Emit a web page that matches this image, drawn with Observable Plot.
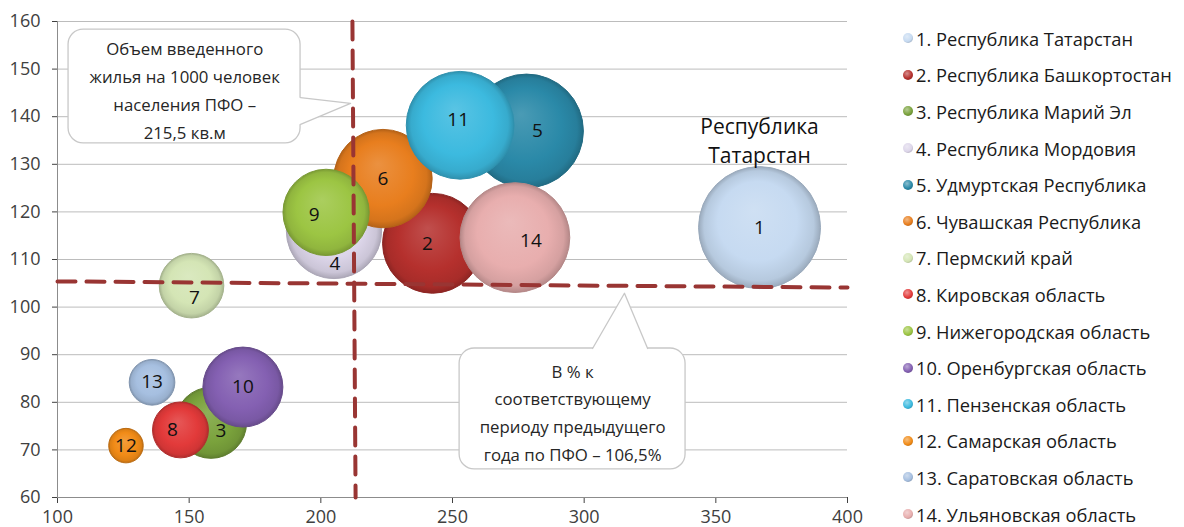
<!DOCTYPE html>
<html><head><meta charset="utf-8">
<script src="https://cdn.jsdelivr.net/npm/d3@7"></script>
<script src="https://cdn.jsdelivr.net/npm/@observablehq/plot@0.6"></script>
<style>
html,body{margin:0;padding:0;background:#fff;}
#wrap{position:relative;width:1184px;height:527px;overflow:hidden;font-family:"Open Sans",sans-serif;}
#chart{position:absolute;left:0;top:0;}
#legend{position:absolute;left:902px;top:20px;}
.item{height:36.6px;display:flex;align-items:center;font-size:18.3px;color:#1a1a1a;white-space:nowrap;}
.ball{width:10px;height:10px;border-radius:50%;margin-left:1px;margin-right:3px;flex:none;}
</style></head><body><div id="wrap"><div id="chart"></div><div id="legend"></div></div>
<script>
// ---- data ----
const regionIds = [1,2,3,4,5,6,7,8,9,10,11,12,13,14];
const regionNames = ["Республика Татарстан","Республика Башкортостан","Республика Марий Эл","Республика Мордовия","Удмуртская Республика","Чувашская Республика","Пермский край","Кировская область","Нижегородская область","Оренбургская область","Пензенская область","Самарская область","Саратовская область","Ульяновская область"];
const housingPer1000 = [366.6,242.4,158.3,205.0,278.1,223.6,150.9,146.7,202.0,170.4,252.9,126.0,135.9,273.7];
const growthPct = [116.7,113.4,75.7,116.0,137.0,127.0,104.5,74.2,119.9,83.2,138.2,70.9,84.2,114.6];
const bubbleSize = [100,67,34,61,87,65,28,21,50,43,78,8,14,81];
const seriesColors = ["#c6daf1","#b5302d","#7aa23c","#ddd6ea","#2a89a8","#e87e1e","#d4e5b5","#e23a3a","#9cc543","#8460b2","#3cbadf","#f18b17","#a6bfe0","#e8aeae"];
const xTicks = [100,150,200,250,300,350,400];
const yTicks = [60,70,80,90,100,110,120,130,140,150,160];
// reference lines as drawn (district averages)
const refVertical = [{x:212.0,y:160},{x:213.2,y:60}];
const refHorizontal = [{x:100,y:105.4},{x:400,y:104.1}];
const calloutTexts = ["Объем введенного\nжилья на 1000 человек\nнаселения ПФО –\n215,5 кв.м","В % к\nсоответствующему\nпериоду предыдущего\nгода по ПФО – 106,5%"];
const highlightLabel = "Республика\nТатарстан";

// ---- build ----
const rows = regionIds.map((id,i)=>({id, name: regionNames[i], x: housingPer1000[i], y: growthPct[i], size: bubbleSize[i], color: seriesColors[i]}));
const darker = (c,t)=>d3.interpolateRgb(c,"#000")(t);
const lighter = (c,t)=>d3.interpolateRgb(c,"#fff")(t);

// callout geometry (data units)
const callouts = [
  {x1:104.2,x2:192.3,y1:158.3,y2:134.4, tx:148.3, ty:146.0, text:calloutTexts[0],
   poly:[[192.3,144.0],[211.3,142.8],[192.3,138.4],[191.5,138.4],[191.5,144.0]],
   edge:[[192.3,144.0],[211.3,142.8],[192.3,138.4]]},
  {x1:252.7,x2:338.5,y1:91.3,y2:65.9, tx:295.6, ty:78.3, text:calloutTexts[1],
   poly:[[303.2,91.3],[315.3,102.9],[324.1,91.3],[324.1,90.8],[303.2,90.8]],
   edge:[[303.2,91.3],[315.3,102.9],[324.1,91.3]]}
];
const polyPts = callouts.flatMap((c,k)=>c.poly.map(p=>({k,x:p[0],y:p[1]})));
const edgePts = callouts.flatMap((c,k)=>c.edge.map(p=>({k,x:p[0],y:p[1]})));

const nudge = {2:[-5,1],3:[10,8],4:[1,33],5:[11,0],7:[3,12],8:[-8,0],9:[-12,3],11:[-2,-5],14:[16,3]};
const labelMarks = rows.map(r=>{
  const [dx,dy] = nudge[r.id] || [0,0];
  return Plot.text([r], {x:"x", y:"y", text: d=>String(d.id), dx, dy, fontSize:19, fill:"#111", fontFamily:"Open Sans"});
});

const dash = {stroke:"#993533", strokeWidth:4, strokeDasharray:"18,11"};

const chart = Plot.plot({
  width: 870, height: 527,
  marginLeft: 57, marginRight: 23, marginTop: 21, marginBottom: 30,
  style: {fontFamily: "Open Sans", fontSize: "18px", color: "#404040", background: "transparent", overflow: "visible"},
  x: {domain: [100,400], ticks: xTicks, tickSize: 6, tickPadding: 7, label: null, tickFormat: d=>String(d)},
  y: {domain: [60,160], ticks: yTicks, tickSize: 5, tickPadding: 12, label: null, tickFormat: d=>String(d)},
  r: {type: "sqrt", domain: [0,100], range: [0,61]},
  color: {type: "identity"},
  marks: [
    Plot.ruleY(yTicks, {stroke:"#bcbcbc", strokeWidth:1}),
    Plot.ruleX([100], {stroke:"#8c8c8c"}),
    Plot.ruleY([60], {stroke:"#8c8c8c"}),
    Plot.rect(callouts, {x1:"x1", x2:"x2", y1:"y1", y2:"y2", fill:"white", stroke:"#c8c8c8", strokeWidth:1.3, rx:15}),
    Plot.line(polyPts, {x:"x", y:"y", z:"k", fill:"white", stroke:"none"}),
    Plot.line(edgePts, {x:"x", y:"y", z:"k", stroke:"#c8c8c8", strokeWidth:1.3, curve:"linear"}),
    Plot.text(callouts, {x:"tx", y:"ty", text:"text", lineHeight:1.65, fontSize:16.8, fill:"#262626", fontFamily:"Open Sans"}),
    Plot.dot(rows, {x:"x", y:"y", r:"size", sort:null, fill: d=>`url(#bub${d.id})`, stroke: d=>darker(d.color,0.22), strokeWidth:1}),
    ...labelMarks,
    Plot.text([rows[0]], {x:"x", y:"y", text: ()=>highlightLabel, dy:-88.5, lineHeight:1.4, fontSize:21, fill:"#111", fontFamily:"Open Sans"}),
    Plot.line(refHorizontal, {x:"x", y:"y", ...dash}),
    Plot.line(refVertical, {x:"x", y:"y", ...dash})
  ]
});
const svgEl = chart.tagName.toLowerCase()==="svg" ? chart : chart.querySelector("svg");
const defs = d3.select(svgEl).insert("defs", ":first-child");
rows.forEach(r=>{
  const g = defs.append("radialGradient").attr("id", `bub${r.id}`)
    .attr("cx","50%").attr("cy","50%").attr("r","50%").attr("fx","45%").attr("fy","35%");
  g.append("stop").attr("offset","0%").attr("stop-color", lighter(r.color,0.15));
  g.append("stop").attr("offset","65%").attr("stop-color", r.color);
  g.append("stop").attr("offset","90%").attr("stop-color", darker(r.color,0.08));
  g.append("stop").attr("offset","100%").attr("stop-color", darker(r.color,0.22));
});
document.getElementById("chart").appendChild(chart);

// legend
const leg = d3.select("#legend");
rows.forEach(r=>{
  const it = leg.append("div").attr("class","item");
  it.append("span").attr("class","ball")
    .style("background", `radial-gradient(circle at 40% 35%, ${lighter(r.color,0.45)} 0%, ${r.color} 55%, ${darker(r.color,0.35)} 100%)`);
  it.append("span").text(`${r.id}. ${r.name}`);
});
</script></body></html>
